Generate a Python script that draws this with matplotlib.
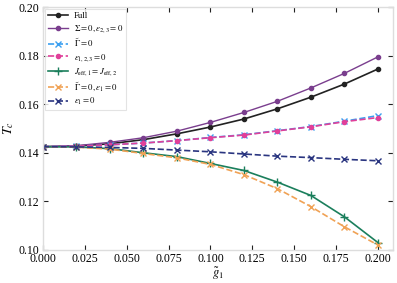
import matplotlib
matplotlib.use("Agg")
import matplotlib.pyplot as plt

plt.rcParams['font.family'] = ['Liberation Serif', 'DejaVu Serif']
plt.rcParams['mathtext.fontset'] = 'stix'

g1 = [0.0, 0.02, 0.04, 0.06, 0.08, 0.10, 0.12, 0.14, 0.16, 0.18, 0.20]
full = [0.1425, 0.1428, 0.1437, 0.1454, 0.1478, 0.1506, 0.1539, 0.1581, 0.1629, 0.1683, 0.1745]
sigma_eps23 = [0.1425, 0.1429, 0.1443, 0.1462, 0.1489, 0.1525, 0.1566, 0.1612, 0.1667, 0.1727, 0.1795]
gamma0 = [0.1425, 0.1427, 0.1433, 0.1440, 0.1450, 0.1463, 0.1474, 0.1491, 0.1508, 0.1530, 0.1553]
eps123 = [0.1425, 0.1427, 0.1433, 0.1440, 0.1450, 0.1462, 0.1473, 0.1490, 0.1507, 0.1528, 0.1545]
jeff = [0.1425, 0.1424, 0.1417, 0.1400, 0.1384, 0.1356, 0.1327, 0.1279, 0.1224, 0.1136, 0.1030]
gamma_eps1 = [0.1425, 0.1423, 0.1415, 0.1397, 0.1379, 0.1352, 0.1310, 0.1252, 0.1178, 0.1095, 0.1020]
eps1 = [0.1425, 0.1424, 0.1422, 0.1418, 0.1411, 0.1404, 0.1395, 0.1386, 0.1380, 0.1373, 0.1367]

labels = ["Full", r"$\Sigma=0,\epsilon_{2,3}=0$", r"$\tilde{\Gamma}=0$", r"$\epsilon_{1,2,3}=0$",
          r"$J_{\rm eff,1}=J_{\rm eff,2}$", r"$\tilde{\Gamma}=0,\epsilon_1=0$", r"$\epsilon_1=0$"]

fig = plt.figure(figsize=(3.97, 2.83), dpi=100)
ax = fig.add_axes([0.108, 0.117, 0.882, 0.858])

ax.plot(g1, full, '-', color='#222222', marker='o', ms=3, lw=1.2, label=labels[0])
ax.plot(g1, sigma_eps23, '-', color='#7a3e8e', marker='o', ms=3, lw=1.0, label=labels[1])
ax.plot(g1, gamma0, '--', color='#3b9ff0', marker='x', ms=5, lw=1.2, label=labels[2])
ax.plot(g1, eps123, '--', color='#e0409a', marker='o', ms=3, lw=1.2, label=labels[3])
ax.plot(g1, jeff, '-', color='#1b7f5c', marker='+', ms=6, lw=1.2, label=labels[4])
ax.plot(g1, gamma_eps1, '--', color='#f0a255', marker='x', ms=5, lw=1.2, label=labels[5])
ax.plot(g1, eps1, '--', color='#2a3580', marker='x', ms=5, lw=1.2, label=labels[6])

ax.set_xlim(0, 0.209)
ax.set_ylim(0.10, 0.20)
ax.set_xticks([0.0, 0.025, 0.05, 0.075, 0.1, 0.125, 0.15, 0.175, 0.2])
ax.set_xticklabels(['0.000', '0.025', '0.050', '0.075', '0.100', '0.125', '0.150', '0.175', '0.200'])
ax.set_yticks([0.10, 0.12, 0.14, 0.16, 0.18, 0.20])
ax.set_yticklabels(['0.10', '0.12', '0.14', '0.16', '0.18', '0.20'])
ax.tick_params(direction='in', top=True, right=True, labelsize=8.5, length=3.5, width=0.8,
               color='#222222', pad=2.5)
for s in ax.spines.values():
    s.set_color('#dddddd')
    s.set_linewidth(1.0)
ax.set_xlabel(r'$\tilde{g}_1$', fontsize=9, labelpad=0)
ax.set_ylabel(r'$T_c$', fontsize=10, labelpad=2)

leg = ax.legend(loc='upper left', fontsize=6.3, frameon=True, fancybox=False, borderaxespad=0.25,
                handlelength=2.3, labelspacing=0.3, borderpad=0.35, handletextpad=0.6)
leg.get_frame().set_edgecolor('#dddddd')
leg.get_frame().set_linewidth(0.8)

fig.savefig('out.png', dpi=100)
